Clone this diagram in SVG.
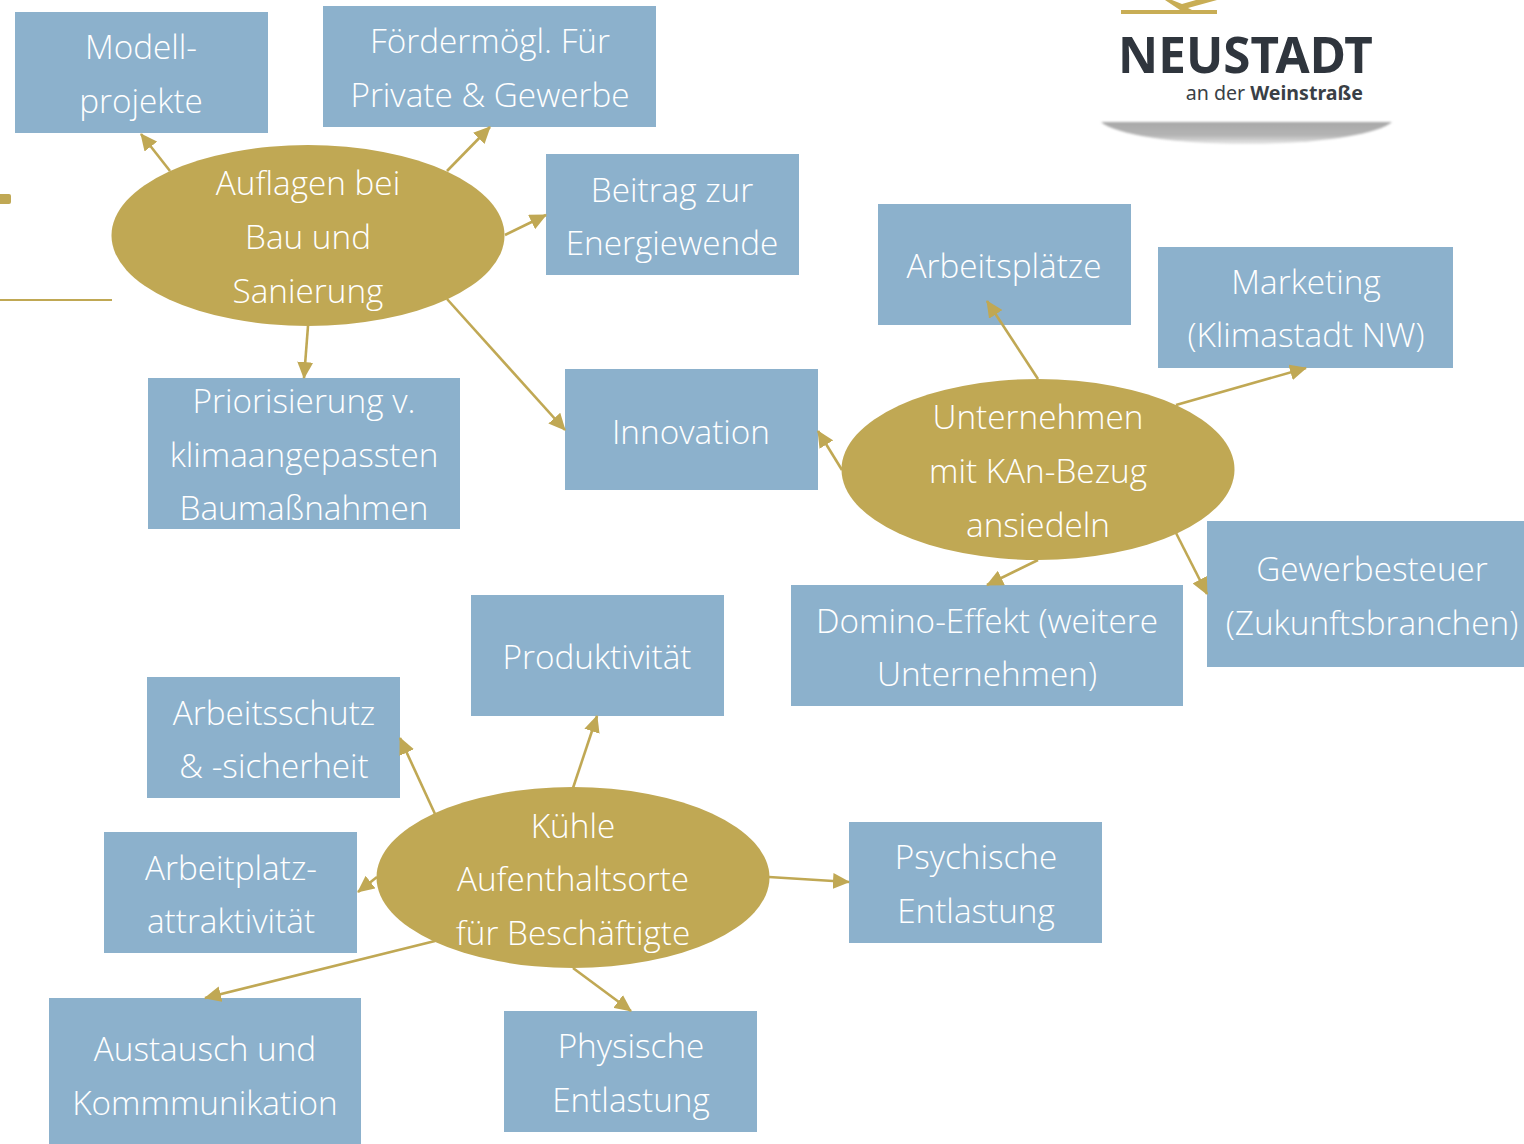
<svg xmlns="http://www.w3.org/2000/svg" width="1524" height="1144" viewBox="0 0 1524 1144">
<style>
.b{fill:#8cb1cc}.e{fill:#c0a854}
text{font-family:"Open Sans","Noto Sans",sans-serif;font-weight:300;font-size:33.3px;fill:#fff;text-anchor:middle}
.c line{stroke:#c0a854;stroke-width:2.6;marker-end:url(#a)}
</style>
<defs><marker id="a" markerUnits="userSpaceOnUse" markerWidth="17" markerHeight="16" refX="16" refY="8" orient="auto"><path d="M0 0L17 8L0 16z" fill="#c0a854"/></marker>
<linearGradient id="s" x1="0" y1="0" x2="0" y2="1"><stop offset="0" stop-color="#a8a8a8"/><stop offset="0.6" stop-color="#b4b4b4"/><stop offset="1" stop-color="#e8e8e8"/></linearGradient>
<filter id="f" x="-5%" y="-20%" width="110%" height="140%"><feGaussianBlur stdDeviation="0.8"/></filter></defs>
<rect width="1524" height="1144" fill="#fff"/>
<g id="deco"><rect x="-3" y="194" width="14" height="10" rx="2" fill="#c0a854"/><rect x="0" y="299" width="112" height="2" fill="#c0a854"/></g>
<g id="logo">
<path d="M1101 122H1392C1378 134 1320 144 1246 144C1172 144 1115 134 1101 122z" fill="url(#s)" filter="url(#f)"/>
<rect x="1121" y="10" width="96" height="4" fill="#c8ad55"/>
<path d="M1165 0H1172L1182 4L1196 0H1217L1188 8L1192 10H1180z" fill="#c8ad55"/>
<text x="1245.500" y="73" style="font-family:'Noto Sans';font-weight:700;font-size:49.400px;fill:#2f353d">NEUSTADT</text>
<text x="1363" y="100" style="font-family:'Noto Sans';font-weight:400;font-size:19.600px;fill:#3a3f46;text-anchor:end">an der <tspan font-weight="700">Weinstraße</tspan></text>
</g>
<g id="n1"><rect class="b" x="15" y="12" width="253" height="121"/><text x="141" y="59">Modell-</text><text x="141" y="113">projekte</text></g>
<g id="n2"><rect class="b" x="323" y="6" width="333" height="121"/><text x="490" y="53">Fördermögl. Für</text><text x="490" y="107">Private &amp; Gewerbe</text></g>
<g id="n3"><rect class="b" x="546" y="154" width="253" height="121"/><text x="672" y="202">Beitrag zur</text><text x="672" y="255">Energiewende</text></g>
<g id="n4"><rect class="b" x="148" y="378" width="312" height="151"/><text x="304" y="413">Priorisierung v.</text><text x="304" y="467">klimaangepassten</text><text x="304" y="520">Baumaßnahmen</text></g>
<g id="n5"><rect class="b" x="565" y="369" width="253" height="121"/><text x="691" y="444">Innovation</text></g>
<g id="n6"><rect class="b" x="878" y="204" width="253" height="121"/><text x="1004" y="278">Arbeitsplätze</text></g>
<g id="n7"><rect class="b" x="1158" y="247" width="295" height="121"/><text x="1306" y="294">Marketing</text><text x="1306" y="347">(Klimastadt NW)</text></g>
<g id="n8"><rect class="b" x="1207" y="521" width="317" height="146"/><text x="1372" y="581">Gewerbesteuer</text><text x="1372" y="635">(Zukunftsbranchen)</text></g>
<g id="n9"><rect class="b" x="791" y="585" width="392" height="121"/><text x="987" y="633">Domino-Effekt (weitere</text><text x="987" y="686">Unternehmen)</text></g>
<g id="n10"><rect class="b" x="471" y="595" width="253" height="121"/><text x="597" y="669">Produktivität</text></g>
<g id="n11"><rect class="b" x="147" y="677" width="253" height="121"/><text x="274" y="725">Arbeitsschutz</text><text x="274" y="778">&amp; -sicherheit</text></g>
<g id="n12"><rect class="b" x="104" y="832" width="253" height="121"/><text x="231" y="880">Arbeitplatz-</text><text x="231" y="933">attraktivität</text></g>
<g id="n13"><rect class="b" x="849" y="822" width="253" height="121"/><text x="976" y="869">Psychische</text><text x="976" y="923">Entlastung</text></g>
<g id="n14"><rect class="b" x="49" y="998" width="312" height="146"/><text x="205" y="1061">Austausch und</text><text x="205" y="1115">Kommmunikation</text></g>
<g id="n15"><rect class="b" x="504" y="1011" width="253" height="121"/><text x="631" y="1058">Physische</text><text x="631" y="1112">Entlastung</text></g>
<g class="c" id="connectors">
<line x1="170" y1="171" x2="141" y2="134"/>
<line x1="447" y1="171" x2="490" y2="127"/>
<line x1="505" y1="235" x2="546" y2="215"/>
<line x1="308" y1="326" x2="304" y2="378"/>
<line x1="447" y1="299" x2="565" y2="430"/>
<line x1="1038" y1="379" x2="987" y2="301"/>
<line x1="1176" y1="405" x2="1306" y2="368"/>
<line x1="842" y1="470" x2="818" y2="431"/>
<line x1="1176" y1="533" x2="1207" y2="594"/>
<line x1="1038" y1="560" x2="987" y2="585"/>
<line x1="573" y1="788" x2="597" y2="716"/>
<line x1="435" y1="814" x2="400" y2="738"/>
<line x1="377" y1="877" x2="358" y2="892"/>
<line x1="769" y1="877" x2="849" y2="882"/>
<line x1="435" y1="941" x2="205" y2="998"/>
<line x1="573" y1="968" x2="631" y2="1011"/>
</g>
<g id="e1"><ellipse class="e" cx="308" cy="235.500" rx="196.500" ry="90.500"/><text x="308" y="195">Auflagen bei</text><text x="308" y="249">Bau und</text><text x="308" y="303">Sanierung</text></g>
<g id="e2"><ellipse class="e" cx="1038" cy="469.500" rx="196.500" ry="90.500"/><text x="1038" y="429">Unternehmen</text><text x="1038" y="483">mit KAn-Bezug</text><text x="1038" y="537">ansiedeln</text></g>
<g id="e3"><ellipse class="e" cx="573" cy="877.500" rx="196.500" ry="90.500"/><text x="573" y="838">Kühle</text><text x="573" y="891">Aufenthaltsorte</text><text x="573" y="945">für Beschäftigte</text></g>
</svg>
